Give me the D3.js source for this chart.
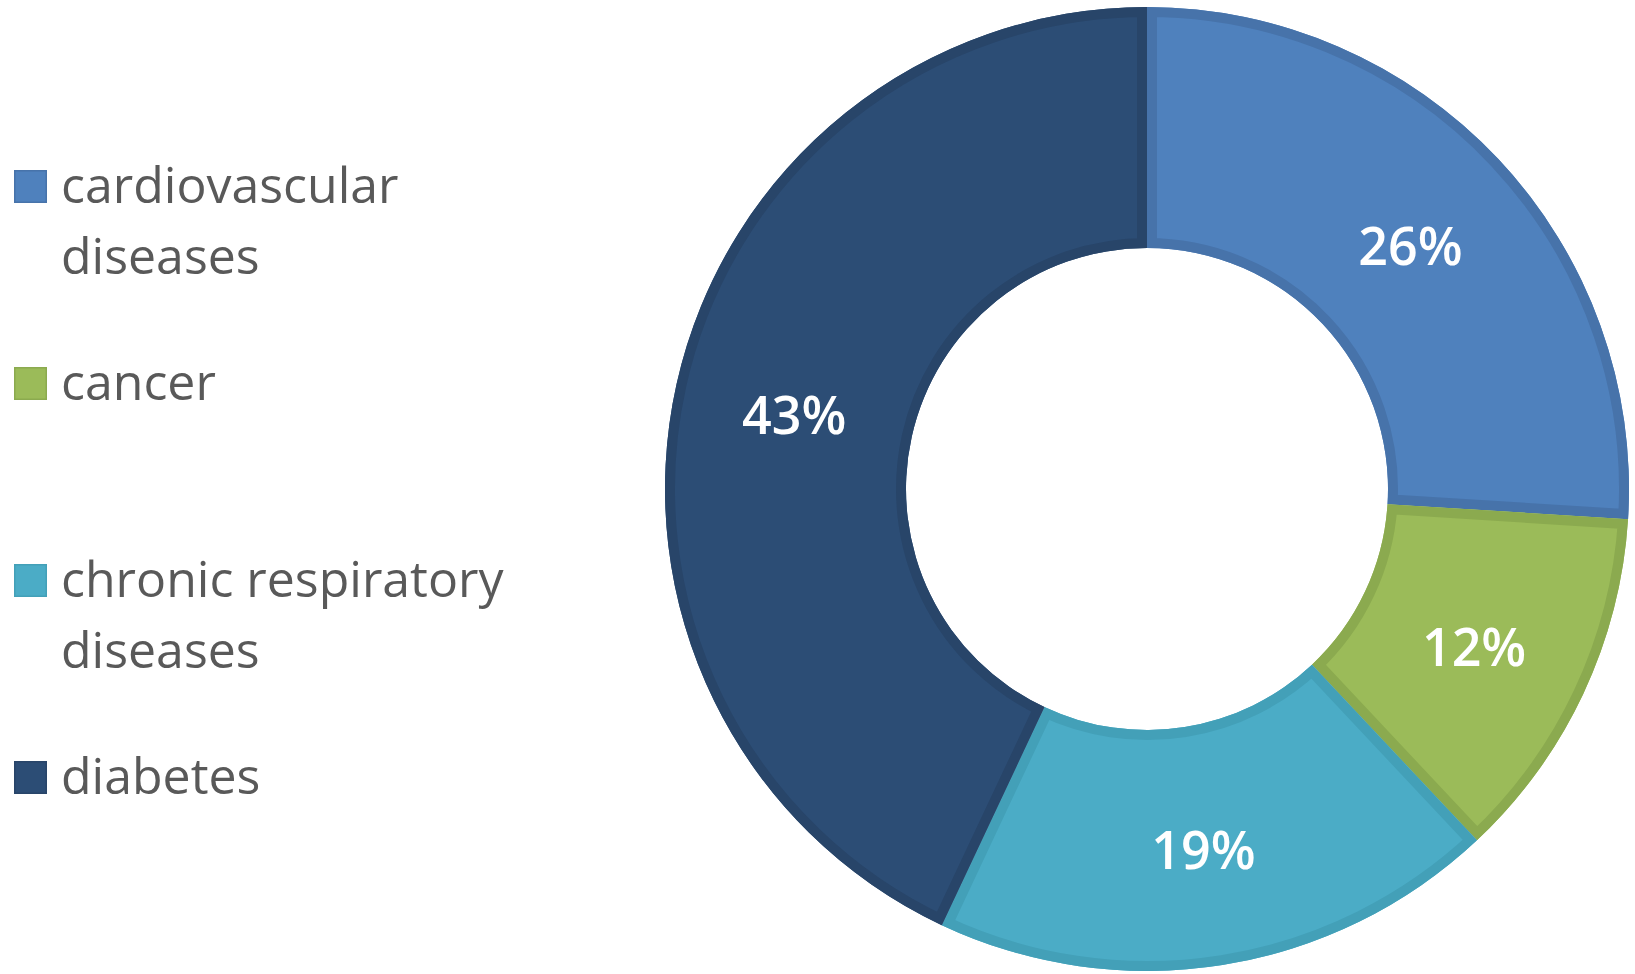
<!DOCTYPE html>
<html>
<head>
<meta charset="utf-8">
<script src="https://cdn.jsdelivr.net/npm/d3@7"></script>
<style>
  html, body { margin: 0; padding: 0; background: #fff; }
  svg { display: block; }
</style>
</head>
<body>
<svg id="chart" width="1635" height="974"></svg>
<script>
// Share of deaths by cause (percent)
const categories = ["cardiovascular diseases", "cancer", "chronic respiratory diseases", "diabetes"];
const legendLines = [["cardiovascular", "diseases"], ["cancer"], ["chronic respiratory", "diseases"], ["diabetes"]];
const values = [26, 12, 19, 43];
const fillColors = ["#4F81BD", "#9BBB59", "#4BACC6", "#2C4D75"];
const edgeColors = ["#4773AA", "#8BAA4F", "#43A0B8", "#284569"];

const svg = d3.select("#chart");

const cx = 1147, cy = 489;
const outerR = 482, innerR = 241;

const pie = d3.pie().sort(null).value(d => d.value);
const arc = d3.arc().innerRadius(innerR).outerRadius(outerR);

const data = categories.map((c, i) => ({ name: c, value: values[i], i }));
const arcs = pie(data);

const defs = svg.append("defs");
const g = svg.append("g").attr("transform", `translate(${cx},${cy})`);

arcs.forEach((a, k) => {
  defs.append("clipPath").attr("id", "slice-clip-" + k)
    .append("path").attr("d", arc(a));
});

const slices = g.selectAll("g.slice").data(arcs).join("g").attr("class", "slice");

slices.append("path")
  .attr("d", arc)
  .attr("fill", d => fillColors[d.data.i]);

// darker inner edge on every slice
slices.append("path")
  .attr("d", arc)
  .attr("fill", "none")
  .attr("stroke", d => edgeColors[d.data.i])
  .attr("stroke-width", 20)
  .attr("stroke-linejoin", "miter")
  .attr("clip-path", (d, k) => `url(#slice-clip-${k})`);

// percentage labels at slice centroids
slices.append("text")
  .attr("transform", d => `translate(${arc.centroid(d)})`)
  .attr("text-anchor", "middle")
  .attr("dy", "0.45em")
  .attr("font-family", "'Open Sans', sans-serif")
  .attr("font-size", 52)
  .attr("font-weight", 600)
  .attr("fill", "#ffffff")
  .text(d => d.data.value + "%");

// legend
const legendTop = 170, legendStep = 197, sq = 33;
const legend = svg.append("g").attr("font-family", "'Open Sans', sans-serif");
const items = legend.selectAll("g.item").data(categories).join("g")
  .attr("class", "item")
  .attr("transform", (d, i) => `translate(14,${legendTop + i * legendStep})`);

items.append("rect")
  .attr("x", 0.75).attr("y", 0.75)
  .attr("width", sq - 1.5).attr("height", sq - 1.5)
  .attr("fill", (d, i) => fillColors[i])
  .attr("stroke", (d, i) => edgeColors[i])
  .attr("stroke-width", 1.5);

items.each(function(d, i) {
  const t = d3.select(this).append("text")
    .attr("x", 47)
    .attr("y", sq)
    .attr("font-size", 50)
    .attr("fill", "#595959");
  legendLines[i].forEach((line, j) => {
    t.append("tspan").attr("x", 47).attr("dy", j === 0 ? 0 : 71).text(line);
  });
});
</script>
</body>
</html>
